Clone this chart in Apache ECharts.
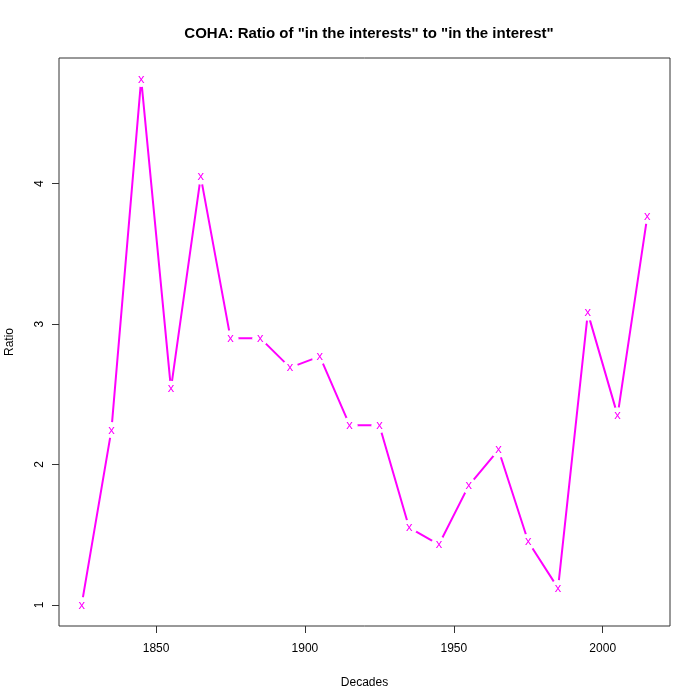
<!DOCTYPE html>
<html>
<head>
<meta charset="utf-8">
<script src="https://cdn.jsdelivr.net/npm/echarts@6/dist/echarts.min.js"></script>
<style>html,body{margin:0;padding:0;background:#fff}#c{width:700px;height:700px}</style>
</head>
<body>
<div id="c"></div>
<script>
const decades = [1825,1835,1845,1855,1865,1875,1885,1895,1905,1915,1925,1935,1945,1955,1965,1975,1985,1995,2005,2015];
const ratios  = [1.00,2.245,4.745,2.54,4.05,2.90,2.90,2.69,2.77,2.28,2.28,1.55,1.43,1.85,2.105,1.45,1.12,3.08,2.35,3.77];
const xTicks = [1850,1900,1950,2000];
const yTicks = [1,2,3,4];
const titleText = 'COHA: Ratio of "in the interests" to "in the interest"';

const pts = decades.map((d,i)=>[d, ratios[i]]);
const font = '"Liberation Sans", Arial, Helvetica, sans-serif';
const chart = echarts.init(document.getElementById('c'), null, {renderer:'canvas'});
chart.setOption({
  animation:false,
  backgroundColor:'#fff',
  title:{text:titleText,left:364,top:21,textAlign:'center',
    textStyle:{fontFamily:font,fontSize:15,fontWeight:'bold',color:'#000'}},
  grid:{left:59,right:30,top:58,bottom:74,show:true,borderColor:'#333',borderWidth:1,backgroundColor:'transparent',
    containLabel:false,outerBoundsMode:'none'},
  xAxis:{type:'value',min:1817.4,max:2022.6,
    name:'Decades',nameLocation:'middle',nameGap:51,
    nameTextStyle:{fontFamily:font,fontSize:12,color:'#000'},
    axisLine:{show:false},splitLine:{show:false},
    axisTick:{show:true,inside:false,length:7,lineStyle:{color:'#333'},customValues:xTicks},
    axisLabel:{fontFamily:font,fontSize:12,color:'#000',margin:17,customValues:xTicks,formatter:v=>String(v)}},
  yAxis:{type:'value',min:0.85,max:4.895,
    name:'Ratio',nameLocation:'middle',nameGap:43,nameRotate:90,
    nameTextStyle:{fontFamily:font,fontSize:12,color:'#000'},
    axisLine:{show:false},splitLine:{show:false},
    axisTick:{show:true,inside:false,length:7,lineStyle:{color:'#333'},customValues:yTicks},
    axisLabel:{fontFamily:font,fontSize:12,color:'#000',margin:13,rotate:90,customValues:yTicks,formatter:v=>String(v)}},
  series:[
    {type:'line',data:pts,symbol:'none',lineStyle:{color:'#ff00ff',width:2},z:2},
    {type:'scatter',data:pts,symbol:'circle',symbolSize:16,
      itemStyle:{color:'#fff',opacity:1},z:3,
      label:{show:true,position:'inside',formatter:'x',color:'#ff00ff',fontFamily:font,fontSize:13,offset:[0,0]}}
  ]
});
</script>
</body>
</html>
